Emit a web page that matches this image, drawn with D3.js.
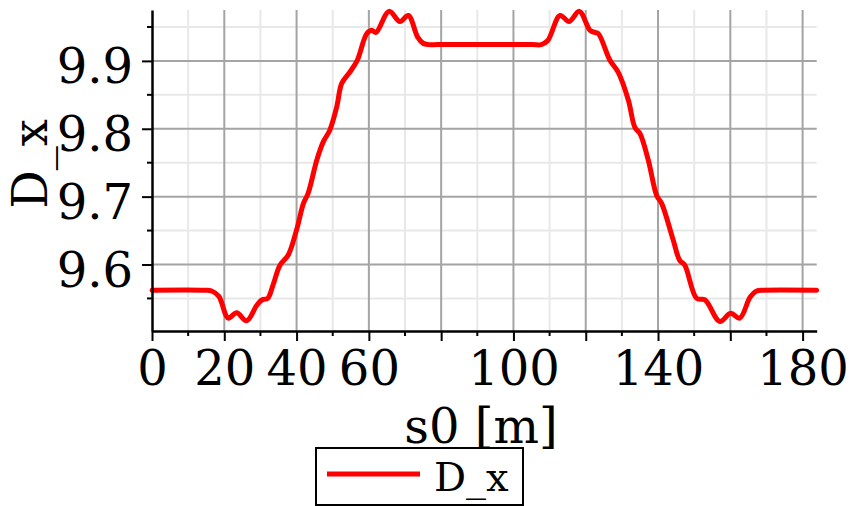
<!DOCTYPE html>
<html><head><meta charset="utf-8">
<script src="https://cdn.jsdelivr.net/npm/d3@7"></script>
<style>body{margin:0;background:#fff;} svg{display:block;}</style>
</head><body>
<svg id="chart" width="849" height="506"></svg>
<script>
const sValues = [0,14.5,16.5,18.5,21.1,23.4,26.2,29.0,30.5,32.0,33.5,35.4,37.7,40.0,41.9,43.2,45.6,47.4,49.2,51.1,52.5,54.8,56.8,59.4,60.8,62.0,65.6,68.6,70.9,73.5,75.0,76.5,79.0,
  105.2,107.7,109.5,112.9,115.4,118.2,121.2,122.5,123.5,126.7,129.0,131.8,133.6,135.0,137.3,139.6,141.0,144.2,146.0,147.4,150.7,153.0,157.1,160.1,162.6,165.5,167.3,169.3,183.9];
const dxValues = [9.562,9.562,9.561,9.553,9.521,9.529,9.517,9.540,9.548,9.550,9.570,9.599,9.614,9.651,9.690,9.705,9.754,9.781,9.798,9.832,9.867,9.884,9.901,9.940,9.945,9.942,9.973,9.958,9.967,9.935,9.926,9.924,9.924,
  9.924,9.924,9.930,9.967,9.958,9.973,9.945,9.942,9.940,9.901,9.883,9.842,9.802,9.793,9.754,9.702,9.690,9.636,9.606,9.599,9.550,9.548,9.516,9.528,9.521,9.552,9.561,9.562,9.562];
const xMajorTicks = [0,20,40,60,80,100,120,140,160,180];
const xTickLabels = ["0","20","40","60","","100","","140","","180"];
const xMinorTicks = [10,30,50,70,90,110,130,150,170];
const yMajorTicks = [9.6,9.7,9.8,9.9];
const yTickLabels = ["9.6","9.7","9.8","9.9"];
const yMinorTicks = [9.55,9.65,9.75,9.85,9.95];
const seriesName = "D_x";
const xTitle = "s0 [m]";
const yTitle = "D_x";

const svg = d3.select("#chart");
const L = 152, R = 816.7, T = 10, B = 331;
const x = d3.scaleLinear().domain([0,183.9]).range([L,R]);
const y = d3.scaleLinear().domain([9.502,9.975]).range([B,T]);
const font = "'DejaVu Serif', serif";

// minor grid
svg.append("g").selectAll("line").data(xMinorTicks).join("line")
  .attr("x1",d=>x(d)).attr("x2",d=>x(d)).attr("y1",T).attr("y2",B)
  .attr("stroke","#e8e8e8").attr("stroke-width",2);
svg.append("g").selectAll("line").data(yMinorTicks).join("line")
  .attr("x1",L).attr("x2",R).attr("y1",d=>y(d)).attr("y2",d=>y(d))
  .attr("stroke","#e8e8e8").attr("stroke-width",2);
// major grid
svg.append("g").selectAll("line").data(xMajorTicks.filter(d=>d>0)).join("line")
  .attr("x1",d=>x(d)).attr("x2",d=>x(d)).attr("y1",T).attr("y2",B)
  .attr("stroke","#a4a4a4").attr("stroke-width",2);
svg.append("g").selectAll("line").data(yMajorTicks).join("line")
  .attr("x1",L).attr("x2",R).attr("y1",d=>y(d)).attr("y2",d=>y(d))
  .attr("stroke","#a4a4a4").attr("stroke-width",2);

// curve
const pts = sValues.map((s,i)=>[s,dxValues[i]]);
svg.append("path").datum(pts)
  .attr("d", d3.line().x(d=>x(d[0])).y(d=>y(d[1])).curve(d3.curveCatmullRom.alpha(0.5)))
  .attr("fill","none").attr("stroke","#ff0000").attr("stroke-width",5)
  .attr("stroke-linejoin","round").attr("stroke-linecap","round");

// axes
const xAxis = d3.axisBottom(x).tickValues(xMajorTicks).tickSize(10)
  .tickFormat((d,i)=>xTickLabels[i]).tickSizeOuter(0);
const gx = svg.append("g").attr("transform",`translate(0,${B})`).call(xAxis);
gx.select(".domain").attr("stroke","#000").attr("stroke-width",2.5);
gx.selectAll(".tick line").attr("stroke","#000").attr("stroke-width",2);
gx.selectAll(".tick text").attr("font-family",font).attr("font-size",48).attr("fill","#000")
  .attr("dy",null).attr("y",54);
svg.append("g").selectAll("line").data(xMinorTicks).join("line")
  .attr("x1",d=>x(d)).attr("x2",d=>x(d)).attr("y1",B).attr("y2",B+5)
  .attr("stroke","#000").attr("stroke-width",2);

const yAxis = d3.axisLeft(y).tickValues(yMajorTicks).tickSize(10)
  .tickFormat((d,i)=>yTickLabels[i]).tickSizeOuter(0);
const gy = svg.append("g").attr("transform",`translate(${L},0)`).call(yAxis);
gy.select(".domain").attr("stroke","#000").attr("stroke-width",2.5);
gy.selectAll(".tick line").attr("stroke","#000").attr("stroke-width",2);
gy.selectAll(".tick text").attr("font-family",font).attr("font-size",48).attr("fill","#000")
  .attr("dy",null).attr("x",-19).attr("y",22);
svg.append("g").selectAll("line").data(yMinorTicks).join("line")
  .attr("x1",L-5).attr("x2",L).attr("y1",d=>y(d)).attr("y2",d=>y(d))
  .attr("stroke","#000").attr("stroke-width",2);

// titles
svg.append("text").attr("x",481).attr("y",443).attr("text-anchor","middle")
  .attr("font-family",font).attr("font-size",48).attr("fill","#000").text(xTitle);
svg.append("text").attr("transform","translate(47,164) rotate(-90)").attr("text-anchor","middle")
  .attr("font-family",font).attr("font-size",48).attr("fill","#000").text(yTitle);

// legend
svg.append("rect").attr("x",316).attr("y",448).attr("width",207).attr("height",57)
  .attr("fill","#fff").attr("stroke","#000").attr("stroke-width",2);
svg.append("line").attr("x1",327).attr("x2",420).attr("y1",474).attr("y2",474)
  .attr("stroke","#ff0000").attr("stroke-width",5);
svg.append("text").attr("x",434).attr("y",491).attr("font-family",font).attr("font-size",40)
  .attr("fill","#000").text(seriesName);
</script>
</body></html>
